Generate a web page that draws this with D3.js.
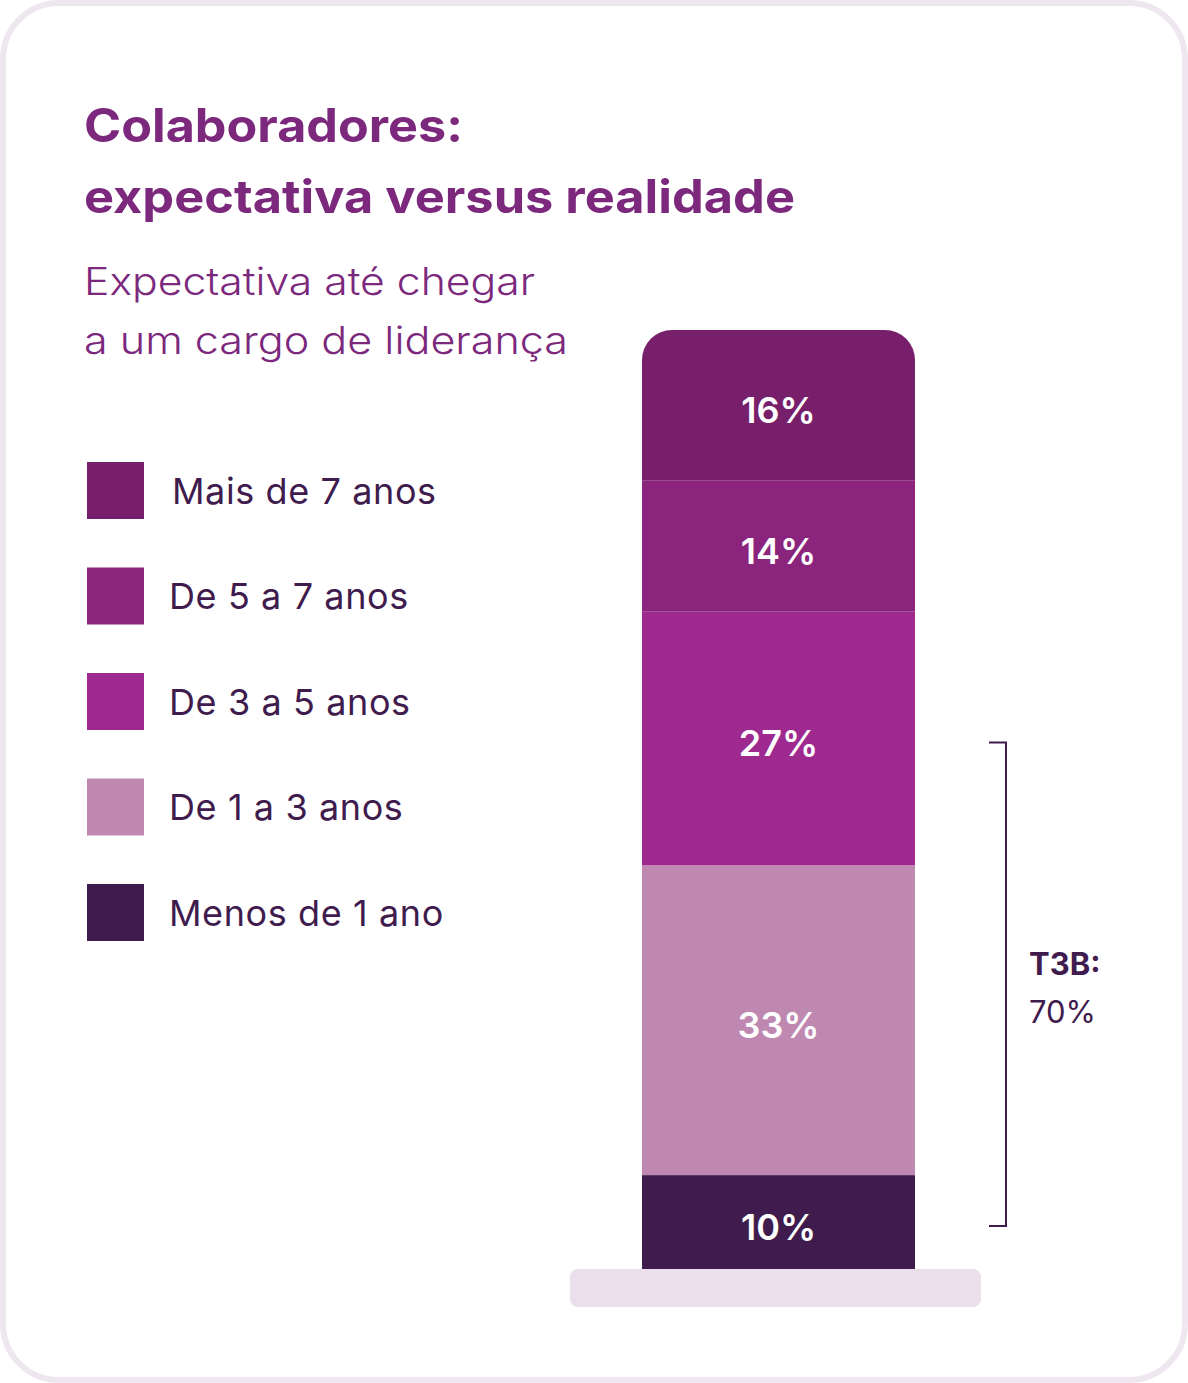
<!DOCTYPE html>
<html>
<head>
<meta charset="utf-8">
<script src="https://cdn.jsdelivr.net/npm/d3@7"></script>
<style>
  body { margin: 0; background: #fff; }
  svg { display: block; font-family: Inter, "Noto Sans", sans-serif; }
</style>
</head>
<body>
<div id="chart-area"></div>
<script>
// data
var categories = ["Mais de 7 anos", "De 5 a 7 anos", "De 3 a 5 anos", "De 1 a 3 anos", "Menos de 1 ano"];
var values = [16, 14, 27, 33, 10];
var colors = ["#771f6b", "#8b247c", "#9e2a8f", "#be88b1", "#3f1b4e"];
var barName = ["Expectativa"];
var titleLines = ["Colaboradores:", "expectativa versus realidade"];
var subtitleLines = ["Expectativa até chegar", "a um cargo de liderança"];
var t3bLabel = "T3B:";
var t3bValue = 70;

var svg = d3.select("#chart-area")
    .append("svg")
    .attr("width", 1188)
    .attr("height", 1383);

// card
svg.append("rect")
    .attr("x", 3).attr("y", 3)
    .attr("width", 1182).attr("height", 1377)
    .attr("rx", 56)
    .attr("fill", "#fff")
    .attr("stroke", "#efe7f0")
    .attr("stroke-width", 6);

// titles (widths stretched to match the wider original typeface)
var titleWidths = [379, 711];
svg.append("g").selectAll("text")
    .data(titleLines)
    .enter().append("text")
    .attr("x", 84)
    .attr("y", function(d, i) { return 142 + i * 71; })
    .attr("fill", "#7b287d")
    .attr("font-size", 46)
    .attr("font-weight", 700)
    .attr("textLength", function(d, i) { return titleWidths[i]; })
    .attr("lengthAdjust", "spacingAndGlyphs")
    .text(function(d) { return d; });

var subtitleWidths = [451, 484];
svg.append("g").selectAll("text")
    .data(subtitleLines)
    .enter().append("text")
    .attr("x", 84)
    .attr("y", function(d, i) { return 295 + i * 59; })
    .attr("fill", "#7b287d")
    .attr("font-size", 38)
    .attr("font-weight", 300)
    .attr("textLength", function(d, i) { return subtitleWidths[i]; })
    .attr("lengthAdjust", "spacingAndGlyphs")
    .text(function(d) { return d; });

// stacking, bottom category first
var stackOrder = categories.slice().reverse();
var row = {};
categories.forEach(function(c, i) { row[c] = values[i]; });
var series = d3.stack().keys(stackOrder)([row]);

var x = d3.scaleBand()
    .domain(barName)
    .range([642, 915])
    .padding(0);

var y = d3.scaleLinear()
    .domain([0, 100])
    .range([1269, 330]);

var color = d3.scaleOrdinal()
    .domain(categories)
    .range(colors);

// base plate
svg.append("rect")
    .attr("x", x(barName[0]) - 72)
    .attr("y", y(0))
    .attr("width", x.bandwidth() + 138)
    .attr("height", 38)
    .attr("rx", 8)
    .attr("fill", "#eadfeb");

// clip for rounded top of the bar
svg.append("clipPath").attr("id", "barClip")
    .append("rect")
    .attr("x", x(barName[0]))
    .attr("y", y(100))
    .attr("width", x.bandwidth())
    .attr("height", y(0) - y(100) + 60)
    .attr("rx", 30);

var bar = svg.append("g").attr("clip-path", "url(#barClip)");

bar.selectAll("rect")
    .data(series)
    .enter().append("rect")
    .attr("x", x(barName[0]))
    .attr("width", x.bandwidth())
    .attr("y", function(d) { return y(d[0][1]); })
    .attr("height", function(d) { return y(d[0][0]) - y(d[0][1]); })
    .attr("fill", function(d) { return color(d.key); });

svg.append("g").selectAll("text")
    .data(series)
    .enter().append("text")
    .attr("x", x(barName[0]) + x.bandwidth() / 2)
    .attr("y", function(d) { return y((d[0][0] + d[0][1]) / 2); })
    .attr("dy", "0.5em")
    .attr("text-anchor", "middle")
    .attr("fill", "#fff")
    .attr("font-size", 36)
    .attr("font-weight", 600)
    .text(function(d) { return row[d.key] + "%"; });

// T3B bracket: middle of "De 3 a 5" down to middle of "Menos de 1"
var top3 = series[series.length - 3][0];
var bottom = series[0][0];
var yTop = y((top3[0] + top3[1]) / 2) + 4;
var yBot = y((bottom[0] + bottom[1]) / 2) + 4;
var bx = 1006;
svg.append("path")
    .attr("d", "M" + (bx - 17) + "," + yTop + "H" + bx + "V" + yBot + "H" + (bx - 17))
    .attr("fill", "none")
    .attr("stroke", "#3f1b4e")
    .attr("stroke-width", 2);

svg.append("text")
    .attr("x", 1029).attr("y", 975)
    .attr("fill", "#3f1b4e")
    .attr("font-size", 31)
    .attr("font-weight", 700)
    .text(t3bLabel);

svg.append("text")
    .attr("x", 1029).attr("y", 1023)
    .attr("fill", "#3f1b4e")
    .attr("font-size", 31)
    .attr("font-weight", 400)
    .text(t3bValue + "%");

// legend
var ly = d3.scalePoint()
    .domain(categories)
    .range([490.5, 912.5]);

var legend = svg.append("g").selectAll("g")
    .data(categories)
    .enter().append("g")
    .attr("transform", function(d) { return "translate(0," + ly(d) + ")"; });

legend.append("rect")
    .attr("x", 87).attr("y", -28.5)
    .attr("width", 57).attr("height", 57)
    .attr("fill", function(d) { return color(d); });

legend.append("text")
    .attr("x", function(d, i) { return i === 0 ? 172 : 169; })
    .attr("y", 13)
    .attr("fill", "#3f1b4e")
    .attr("font-size", 36)
    .attr("letter-spacing", 0.6)
    .text(function(d) { return d; });
</script>
</body>
</html>
